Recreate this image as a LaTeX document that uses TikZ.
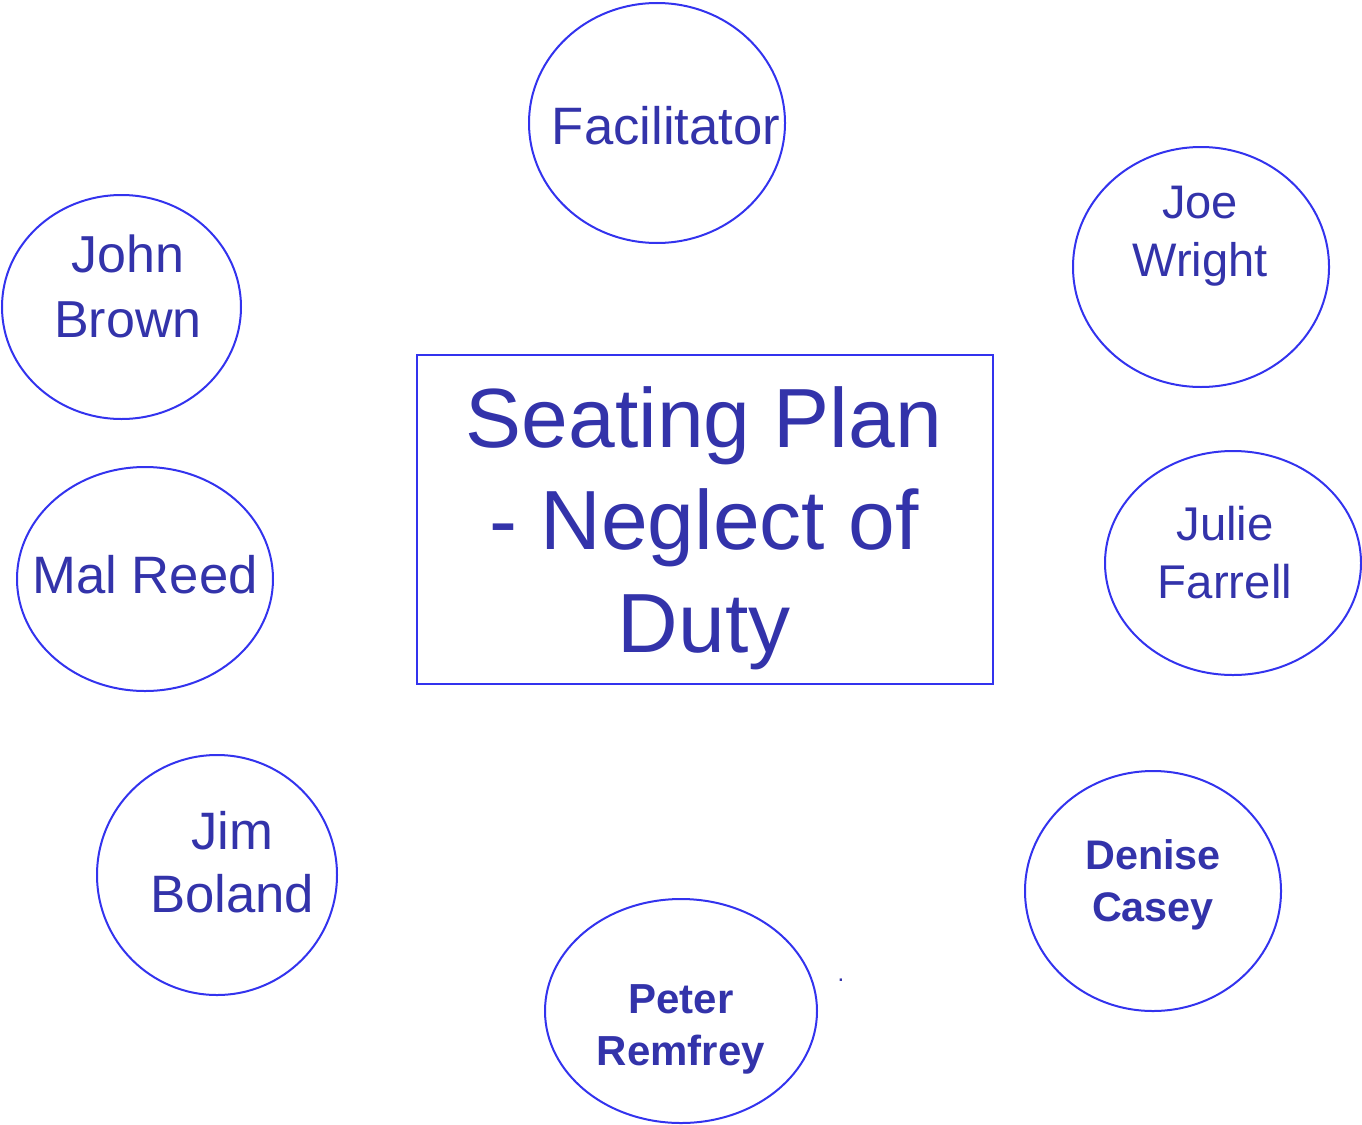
\documentclass[tikz,border=0pt]{standalone}
\usepackage{fontspec}
\setmainfont{Liberation Sans}
\usetikzlibrary{shapes.geometric}
\definecolor{seatblue}{RGB}{51,51,238}
\definecolor{nameblue}{RGB}{51,51,170}
\begin{document}
\begin{tikzpicture}[x=0.75pt, y=-0.75pt, line width=1.5pt]
    \tikzstyle{seat}=[draw=seatblue, ellipse, inner sep=0pt, minimum width=192pt]
    \tikzstyle{guest}=[text=nameblue, align=center, inner sep=0pt]
    \tikzstyle{plan}=[draw=seatblue, rectangle, inner sep=0pt, minimum width=432pt, minimum height=246.75pt]
    \useasboundingbox (0,0) rectangle (1362,1124);

    % seats round the table
    \node[seat, minimum height=180pt] (facil) at (657,123) {};
    \node[seat, minimum width=179.25pt, minimum height=168pt] (john) at (121.5,307) {};
    \node[seat, minimum height=168pt] (mal) at (145,579) {};
    \node[seat, minimum width=180pt, minimum height=180pt] (jim) at (217,875) {};
    \node[seat, minimum width=204pt, minimum height=168pt] (peter) at (681,1011) {};
    \node[seat, minimum height=180pt] (denise) at (1153,891) {};
    \node[seat, minimum height=168pt] (julie) at (1233,563) {};
    \node[seat, minimum height=180pt] (joe) at (1201,267) {};
    \node[plan] (table) at (705,519.5) {};

    % names
    \node[guest, font=\fontsize{39.5}{48}\selectfont] (facilname) at (666,126) {Facilitator};
    \node[guest, font=\fontsize{39}{48.75}\selectfont] (johnname) at (128,286) {John\\Brown};
    \node[guest, font=\fontsize{39.5}{48}\selectfont] (malname) at (145,575) {Mal Reed};
    \node[guest, font=\fontsize{39.5}{47.25}\selectfont] (jimname) at (232,862) {Jim\\Boland};
    \node[guest, font=\bfseries\fontsize{31.5}{39}\selectfont] (petername) at (681,1029) {Peter\\Remfrey};
    \node[guest, font=\bfseries\fontsize{31}{39}\selectfont] (denisename) at (1153,885) {Denise\\Casey};
    \node[guest, font=\fontsize{35.5}{43.5}\selectfont] (juliename) at (1225,553) {Julie\\Farrell};
    \node[guest, font=\fontsize{35.3}{43.5}\selectfont] (joename) at (1200,236) {Joe\\Wright};
    \node[guest, font=\fontsize{63}{77}\selectfont] (title) at (704,528) {Seating Plan\\- Neglect of\\Duty};

    \node[guest, anchor=base, font=\fontsize{18}{22}\selectfont] (dot) at (841,981) {.};
\end{tikzpicture}
\end{document}
